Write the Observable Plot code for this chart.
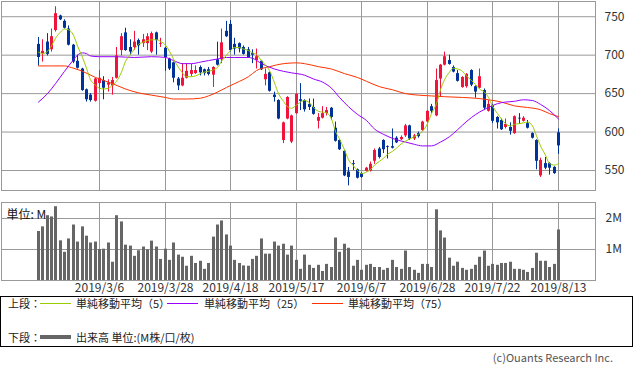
<!DOCTYPE html>
<html><head><meta charset="utf-8">
<script src="https://cdn.jsdelivr.net/npm/d3@7"></script>
<script src="https://cdn.jsdelivr.net/npm/@observablehq/plot@0.6"></script>
<style>
body{margin:0;background:#fff;font-family:"Noto Sans CJK JP","Noto Sans",sans-serif;}
#wrap{position:relative;width:633px;height:370px;overflow:hidden;background:#fff;}
#price{position:absolute;left:0;top:0;}
#vol{position:absolute;left:0;top:191px;}
#legend{position:absolute;left:0;top:296px;width:633px;height:51px;box-sizing:border-box;border:1px solid #000;}
.lg{position:absolute;font-size:11px;line-height:12px;color:#222;white-space:nowrap;}
.sw{position:absolute;width:31px;height:1px;}
#copy{position:absolute;right:20px;top:351px;font-size:11px;line-height:13px;color:#555;white-space:nowrap;}
</style></head>
<body><div id="wrap">
<div id="price"></div><div id="vol"></div>
<div id="legend">
 <div class="lg" style="left:7px;top:0px">上段：</div>
 <div class="sw" style="left:39px;top:6px;background:#99cc00"></div>
 <div class="lg" style="left:75px;top:0px">単純移動平均（5）</div>
 <div class="sw" style="left:166px;top:6px;background:#9900ff"></div>
 <div class="lg" style="left:203px;top:0px">単純移動平均（25）</div>
 <div class="sw" style="left:311px;top:6px;background:#ff3300"></div>
 <div class="lg" style="left:347px;top:0px">単純移動平均（75）</div>
 <div class="lg" style="left:7px;top:34px">下段：</div>
 <div class="sw" style="left:39px;top:38px;height:4px;background:#666"></div>
 <div class="lg" style="left:75px;top:34px">出来高 単位:(M株/口/枚)</div>
</div>
<div id="copy">(c)Ouants Research Inc.</div>
</div>
<script>
const dates = [
"2019/2/14","2019/2/15","2019/2/18","2019/2/19","2019/2/20","2019/2/21","2019/2/22","2019/2/25","2019/2/26","2019/2/27","2019/2/28",
"2019/3/1","2019/3/4","2019/3/5","2019/3/6","2019/3/7","2019/3/8","2019/3/11","2019/3/12","2019/3/13","2019/3/14","2019/3/15","2019/3/18","2019/3/19","2019/3/20","2019/3/22","2019/3/25","2019/3/26","2019/3/27","2019/3/28","2019/3/29",
"2019/4/1","2019/4/2","2019/4/3","2019/4/4","2019/4/5","2019/4/8","2019/4/9","2019/4/10","2019/4/11","2019/4/12","2019/4/15","2019/4/16","2019/4/17","2019/4/18","2019/4/19","2019/4/22","2019/4/23","2019/4/24","2019/4/25","2019/4/26",
"2019/5/7","2019/5/8","2019/5/9","2019/5/10","2019/5/13","2019/5/14","2019/5/15","2019/5/16","2019/5/17","2019/5/20","2019/5/21","2019/5/22","2019/5/23","2019/5/24","2019/5/27","2019/5/28","2019/5/29","2019/5/30","2019/5/31",
"2019/6/3","2019/6/4","2019/6/5","2019/6/6","2019/6/7","2019/6/10","2019/6/11","2019/6/12","2019/6/13","2019/6/14","2019/6/17","2019/6/18","2019/6/19","2019/6/20","2019/6/21","2019/6/24","2019/6/25","2019/6/26","2019/6/27","2019/6/28",
"2019/7/1","2019/7/2","2019/7/3","2019/7/4","2019/7/5","2019/7/8","2019/7/9","2019/7/10","2019/7/11","2019/7/12","2019/7/16","2019/7/17","2019/7/18","2019/7/19","2019/7/22","2019/7/23","2019/7/24","2019/7/25","2019/7/26","2019/7/29","2019/7/30","2019/7/31",
"2019/8/1","2019/8/2","2019/8/5","2019/8/6","2019/8/7","2019/8/8","2019/8/9","2019/8/13"];

const open = [714,702,717,707,732,751,744,734,713,692,682,655,648,640,663,667,661,660,670,706,729,710,710,719,715,715,704,729,714,709,695,690,669,660,670,675,676,684,681,681,674,694,694,731,740,714,715,710,707,702,693,692,668,677,648,641,589,617,587,624,642,641,636,632,614,618,624,631,605,589,575,548,559,551,546,549,549,562,578,589,581,581,592,590,595,608,591,598,602,613,633,621,669,687,693,684,676,658,659,680,659,657,654,627,634,619,615,606,606,598,618,614,611,598,589,543,559,559,554,599];
const high = [723,720,728,734,763,752,746,738,714,700,683,656,650,670,680,672,668,671,710,728,735,720,731,721,727,728,730,730,722,710,696,691,671,689,689,688,686,686,682,684,685,717,734,744,745,722,716,712,710,707,708,693,682,678,652,642,613,646,622,650,663,642,643,643,624,633,632,632,613,590,576,554,563,552,547,554,561,578,580,590,582,604,594,595,610,609,597,600,614,628,636,682,688,704,700,686,680,672,676,681,660,682,656,641,636,620,617,617,612,621,624,620,615,599,590,566,567,560,555,604];
const low = [686,691,699,704,730,745,734,712,689,682,653,639,639,639,655,642,652,648,669,699,705,700,706,700,710,706,702,700,710,679,680,664,654,659,669,672,675,673,673,673,658,686,689,723,704,700,703,700,696,689,682,680,660,652,639,616,585,616,585,623,628,626,628,622,604,617,621,615,587,576,542,530,550,539,540,548,548,558,565,572,565,578,585,589,593,589,589,592,601,612,624,620,645,686,687,677,665,657,657,659,644,656,628,626,611,604,602,604,596,597,610,613,604,591,551,541,551,544,545,571];
const close = [697,705,701,724,754,746,735,713,691,683,654,642,641,669,670,657,664,667,699,724,706,704,717,712,720,724,728,719,715,697,682,670,660,670,679,680,680,677,676,675,684,687,716,724,706,708,708,701,697,700,698,681,675,653,645,617,612,645,621,649,640,629,632,623,619,624,628,619,588,577,543,541,558,540,541,553,558,576,567,577,580,579,586,593,608,591,595,594,613,627,627,667,687,698,688,678,666,671,675,661,652,672,631,636,614,612,603,610,601,620,617,618,605,592,562,563,553,553,546,582];
const volume = [1.58,1.73,2.09,2.05,2.38,1.28,0.91,1.34,1.79,1.24,1.73,1.43,1.21,1.24,1.0,1.01,1.21,0.59,2.09,1.89,1.14,1.11,0.78,0.96,1.08,0.99,1.27,1.08,0.68,1.01,0.65,1.21,0.82,0.75,0.46,0.78,0.55,0.62,0.36,0.55,1.40,1.79,1.92,1.47,1.11,0.65,0.55,0.47,0.46,0.68,0.78,1.34,0.85,0.85,1.24,1.11,1.17,0.82,1.11,0.65,0.36,0.82,0.49,0.39,0.49,0.29,0.52,0.42,1.37,0.91,1.17,1.04,0.46,0.65,0.33,0.49,0.52,0.42,0.42,0.33,0.39,0.65,0.42,0.36,0.95,0.42,0.33,0.23,0.52,0.52,0.42,2.28,1.60,1.37,0.72,0.46,0.59,0.39,0.33,0.36,0.49,0.75,0.95,0.46,0.52,0.49,0.55,0.55,0.59,0.36,0.36,0.33,0.26,0.39,0.88,0.62,0.62,0.42,0.52,1.63];
const ma5 = [704,702,705,712,722,730,734,733,726,712,697,683,668,661,657,656,657,661,666,678,692,701,708,714,717,719,720,720,718,713,705,695,684,677,672,672,673,676,678,679,681,684,692,700,706,710,710,708,706,703,701,693,687,680,664,650,640,633,631,635,639,641,638,632,627,626,625,617,601,591,577,564,556,550,546,548,551,557,562,566,571,575,579,585,588,591,594,597,601,611,624,637,655,668,678,683,682,679,673,667,662,656,652,645,634,624,617,611,608,610,611,612,613,608,595,582,570,559,557,559];
const ma25Idx = [0,2,4,6,8,9,10,11,12,14,18,22,26,29,31,33,35,37,39,41,43,45,48,49,51,54,56,58,61,63,65,67,69,71,73,75,77,79,82,84,86,88,90,92,94,96,97,99,101,103,105,107,109,111,113,115,117,119];
const ma25 = [639,650,663,679,694,700,703,702,699,698,698,697,698,697,693,689,689,691,693,695,697,697,697,696,689,682,679,677,674,669,665,657,645,633,623,615,604,597,590,587,584,582,582,587,594,603,609,619,626,632,637,639,640,642,641,636,628,617];
const ma75Idx = [0,3,6,8,10,13,17,20,23,26,29,31,34,37,39,41,43,46,48,50,53,56,59,61,64,67,70,73,75,78,81,84,87,90,93,97,100,103,106,109,112,115,117,119];
const ma75 = [686,686,686,683,679,671,663,656,651,648,645,643,643,644,647,652,658,666,672,680,685,689,690,689,685,682,676,671,666,659,655,650,648,647,646,645,644,642,639,634,632,629,624,620];
const tickDates = ["2019/3/6","2019/3/28","2019/4/18","2019/5/17","2019/6/7","2019/6/28","2019/7/22","2019/8/13"];
const priceTicks = [550,600,650,700,750];
const volTicks = [1,2];

const RED = "#f0143c", BLUE = "#003399", GRID = "#999999";
const tickIdx = tickDates.map(d => dates.indexOf(d));
const rows = dates.map((d, i) => ({i, o: open[i], h: high[i], l: low[i], c: close[i], v: volume[i], col: close[i] >= open[i] ? RED : BLUE}));
const m5 = ma5.map((v, i) => ({i, v}));
const m25 = ma25Idx.map((i, k) => ({i, v: ma25[k]}));
const m75 = ma75Idx.map((i, k) => ({i, v: ma75[k]}));
const xDomain = [-8.42, 127.48];
const font = {fontSize: "12px", fontFamily: "'Noto Sans CJK JP','Noto Sans',sans-serif", color: "#333", background: "transparent"};

const price = Plot.plot({
  width: 633, height: 191,
  marginTop: 1, marginBottom: 1, marginLeft: 1, marginRight: 38,
  style: font,
  x: {domain: xDomain, round: true, axis: null},
  y: {domain: [524, 769.8], axis: "right", ticks: priceTicks, tickSize: 0, tickPadding: 9, label: null, tickFormat: d => String(d)},
  color: {type: "identity"},
  marks: [
    Plot.ruleY(priceTicks, {stroke: GRID}),
    Plot.ruleX(tickIdx, {stroke: GRID}),
    Plot.frame({stroke: GRID}),
    Plot.ruleX(rows, {x: "i", y1: "l", y2: "h", stroke: "col", strokeWidth: 1}),
    Plot.ruleX(rows, {x: "i", y1: "o", y2: "c", stroke: "col", strokeWidth: 3}),
    Plot.line(m75, {x: "i", y: "v", stroke: "#ff3300", strokeWidth: 1, curve: "monotone-x"}),
    Plot.line(m25, {x: "i", y: "v", stroke: "#9900ff", strokeWidth: 1, curve: "monotone-x"}),
    Plot.line(m5, {x: "i", y: "v", stroke: "#99cc00", strokeWidth: 1, curve: "monotone-x"})
  ]
});
document.getElementById("price").appendChild(price);

const vol = Plot.plot({
  width: 633, height: 105,
  marginTop: 11, marginBottom: 16, marginLeft: 1, marginRight: 38,
  style: font,
  x: {domain: xDomain, round: true, axis: "bottom", ticks: tickIdx, tickFormat: i => dates[i], tickSize: 0, tickPadding: 3, label: null},
  y: {domain: [0, 2.516], axis: "right", ticks: volTicks, tickFormat: d => d + "M", tickSize: 0, tickPadding: 10, label: null},
  marks: [
    Plot.ruleY(volTicks, {stroke: GRID}),
    Plot.ruleX(tickIdx, {stroke: GRID}),
    Plot.frame({stroke: GRID}),
    Plot.ruleX(rows, {x: "i", y1: 0, y2: "v", stroke: "#666666", strokeWidth: 3}),
    Plot.text(["単位: M"], {frameAnchor: "top-left", dx: 5, dy: 8, textAnchor: "start", fill: "#111", fontSize: 12})
  ]
});
document.getElementById("vol").appendChild(vol);
</script>
</body></html>
